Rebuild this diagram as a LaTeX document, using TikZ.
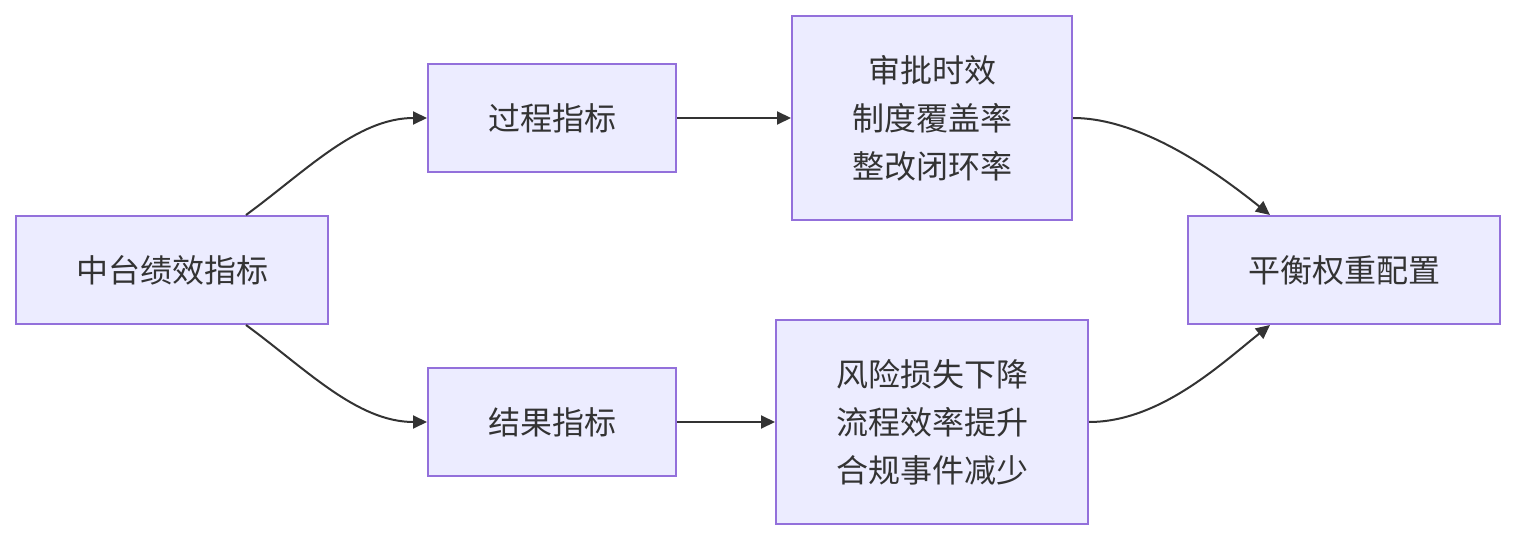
\documentclass[tikz,border=0pt]{standalone}
\usepackage{fontspec}
\setmainfont{Noto Sans CJK SC}
\usetikzlibrary{arrows.meta,calc}
\definecolor{boxfill}{HTML}{ECECFF}
\definecolor{boxline}{HTML}{9370DB}
\definecolor{txt}{HTML}{333333}
\begin{document}
\begin{tikzpicture}[x=1pt,y=-1pt,
  box/.style={draw=boxline,fill=boxfill,line width=2pt,inner sep=0pt,text=txt,
    font=\fontsize{32}{48}\selectfont,align=center},
  edge/.style={draw=txt,line width=2pt,-{Triangle[length=14pt,width=13pt]}}]
\useasboundingbox (0,0) rectangle (1516,540);
\node[box,minimum width=312pt,minimum height=108pt] (A) at (172,270) {中台绩效指标};
\node[box,minimum width=248pt,minimum height=108pt] (B) at (552,118) {过程指标};
\node[box,minimum width=248pt,minimum height=108pt] (C) at (552,422) {结果指标};
\node[box,minimum width=280pt,minimum height=204pt] (D) at (932,118) {审批时效\\制度覆盖率\\整改闭环率};
\node[box,minimum width=312pt,minimum height=204pt] (E) at (932,422) {风险损失下降\\流程效率提升\\合规事件减少};
\node[box,minimum width=312pt,minimum height=108pt] (F) at (1344,270) {平衡权重配置};
\draw[edge] ($(A.north)+(74,0)$) .. controls +(60,-44) and +(-70,0) .. (B.west);
\draw[edge] ($(A.south)+(74,0)$) .. controls +(60,44) and +(-70,0) .. (C.west);
\draw[edge] (B.east) -- (D.west);
\draw[edge] (C.east) -- (E.west);
\draw[edge] (D.east) .. controls +(70,0) and +(-50,-40) .. ($(F.north)+(-74,0)$);
\draw[edge] (E.east) .. controls +(70,0) and +(-50,40) .. ($(F.south)+(-74,0)$);
\end{tikzpicture}
\end{document}
